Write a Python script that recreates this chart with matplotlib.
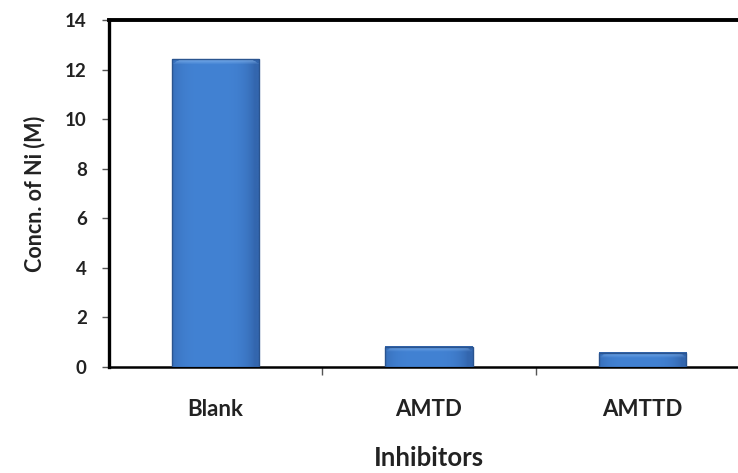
import numpy as np
import matplotlib.pyplot as plt
from matplotlib.colors import to_rgb

categories = ["Blank", "AMTD", "AMTTD"]
values = [12.42, 0.82, 0.58]
yticks = [0, 2, 4, 6, 8, 10, 12, 14]

plt.rcParams['font.family'] = ['Lato', 'DejaVu Sans']

W, H = 738, 473
fig = plt.figure(figsize=(W / 100, H / 100), dpi=100)
# axes spans x 109..749 px (right edge runs off the canvas), y 20..367 px
ax = fig.add_axes([109 / W, 1 - 367 / H, 640 / W, 347 / H])

ax.set_xlim(-0.5, 2.5)
ax.set_ylim(0, 14)

x = np.arange(len(categories))
bars = ax.bar(x, values, width=0.41, facecolor="none", edgecolor="#2a548f",
              linewidth=1.0, zorder=4)

# shaded fill: slightly darker at the sides, light bevel across the top
mid, side, hi = np.array(to_rgb("#4282d3")), np.array(to_rgb("#3366ae")), np.array(to_rgb("#8dbcf2"))
px_per_unit = 347 / 14
for b in bars:
    h = b.get_height()
    ny = max(int(h * px_per_unit), 6)
    nx = 80
    u = np.linspace(-1, 1, nx)
    wgt = np.clip(np.abs(u + 0.1) ** 4, 0, 1)[None, :, None]
    img = np.repeat(mid[None, None, :] * (1 - wgt) + side[None, None, :] * wgt, ny, axis=0)
    bev = 5
    for r in range(bev):
        t = 1 - r / bev
        inset = int((bev - r) * 1.6)
        img[r, inset:nx - inset] = img[r, inset:nx - inset] * (1 - 0.7 * t) + hi * 0.7 * t
    img[0] = side
    ax.imshow(img, extent=(b.get_x(), b.get_x() + b.get_width(), 0, h), origin="upper",
              aspect="auto", interpolation="bilinear", zorder=3)
ax.set_xlim(-0.5, 2.5)
ax.set_ylim(0, 14)

ax.set_yticks(yticks)
ax.set_yticklabels([str(t) for t in yticks], fontsize=13.5, fontweight="bold", color="#222222")
ax.set_xticks(x)
ax.set_xticklabels(categories, fontsize=16, fontweight="bold", color="#222222")
ax.tick_params(axis="x", length=0, pad=23)
ax.set_xticks([0.5, 1.5], minor=True)
ax.tick_params(axis="x", which="minor", length=6, width=1, color="#555555", direction="out")
ax.tick_params(axis="y", length=5, width=1, color="#555555", direction="out", pad=11)

ax.spines["top"].set_linewidth(2.8)
ax.spines["left"].set_linewidth(2.4)
ax.spines["bottom"].set_linewidth(1.8)
for s in ["left", "top", "bottom"]:
    ax.spines[s].set_color("black")
ax.spines["right"].set_visible(False)

ax.set_ylabel("Concn. of Ni (M)", fontsize=15.5, fontweight="bold", color="#222222", labelpad=14)
ax.set_xlabel("Inhibitors", fontsize=18.5, fontweight="bold", color="#222222", labelpad=19)

fig.savefig("out.png", dpi=100)
